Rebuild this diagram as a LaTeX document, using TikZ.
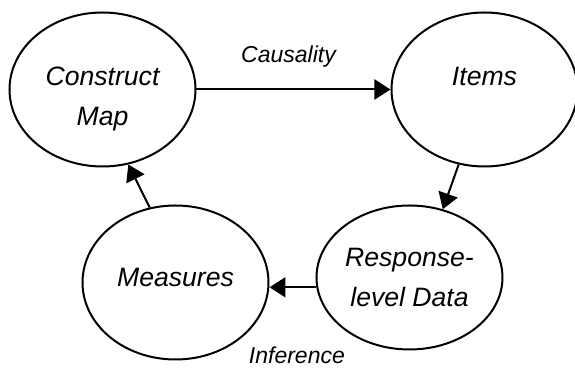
\documentclass[tikz,border=0pt]{standalone}
\usepackage{fontspec}
\setmainfont{Liberation Sans}
\usetikzlibrary{arrows.meta,shapes.geometric,positioning}

\begin{document}
\begin{tikzpicture}[
  every node/.style={font=\itshape},
  bubble/.style={ellipse, draw, line width=1pt, inner sep=0pt,
                 minimum width=93pt, minimum height=77pt, align=center,
                 font=\fontsize{13.3}{20}\selectfont\itshape},
  arr/.style={-{Triangle[length=8pt, width=10pt]}, line width=1pt},
  lbl/.style={font=\fontsize{11.5}{14}\selectfont\itshape},
]
\useasboundingbox (-51.25pt,44.75pt) rectangle (236.25pt,-139.25pt);

\node[bubble, text height=39pt] (cm) at (0,0) {Construct\\Map};
\node[bubble, text height=39pt, right=97pt of cm] (items) {Items\\\phantom{Map}};
\node[bubble, minimum height=72pt, below=18.5pt of items, xshift=-37.5pt] (resp)
  {Response-\\level Data};
\node[bubble, text depth=5pt, left=23pt of resp, yshift=-2.5pt] (meas) {Measures};

\draw[arr] (cm) -- node[lbl, above=7.5pt, xshift=-2.5pt]{Causality} (items);
\draw[arr] (items.251) -- (resp.64);
\draw[arr] (resp.186) -- node[lbl, below=26pt, xshift=2pt]{Inference} (meas.east |- resp.186);
\draw[arr] (meas.109) -- (cm.289);

\end{tikzpicture}
\end{document}
